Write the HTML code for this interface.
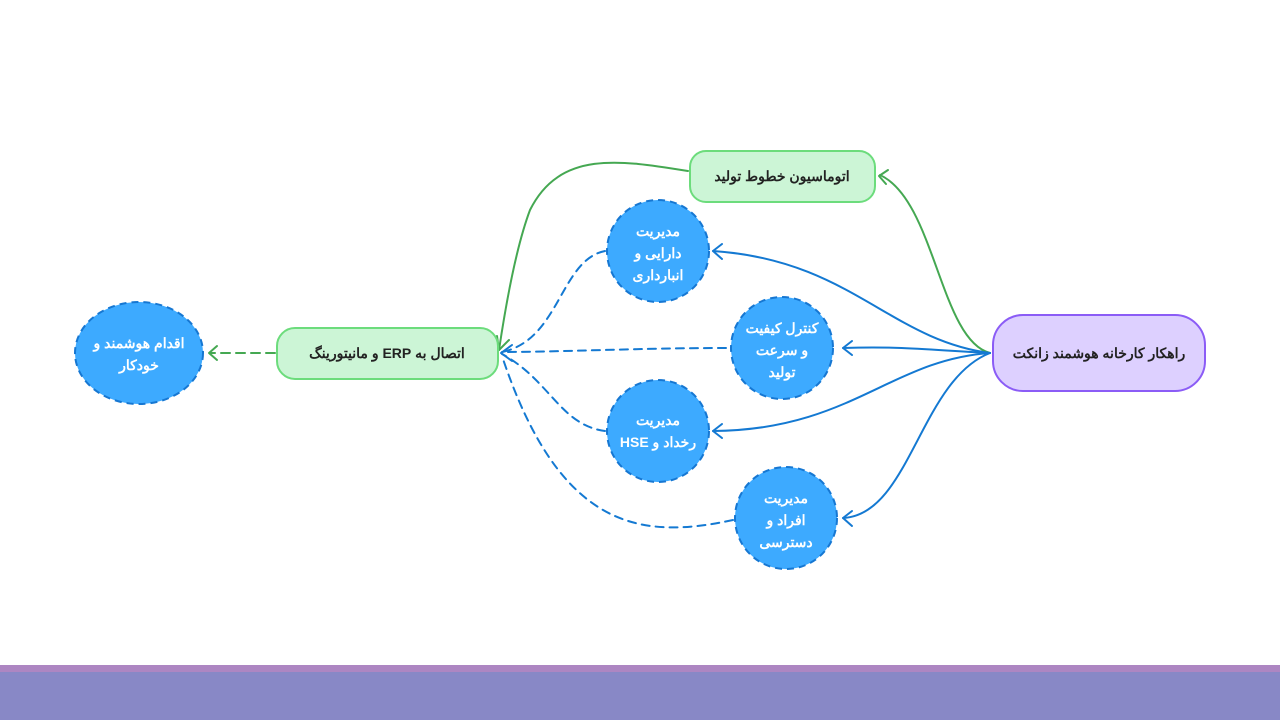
<!DOCTYPE html>
<html><head><meta charset="utf-8"><style>
body{margin:0;width:1280px;height:720px;background:#fff;overflow:hidden;font-family:"Liberation Sans","Noto Sans CJK SC",sans-serif}
</style></head><body>
<svg width="1280" height="720" viewBox="0 0 1280 720" xmlns="http://www.w3.org/2000/svg">
<rect x="0" y="665" width="1280" height="8" fill="#ad86c2"/>
<rect x="0" y="672" width="1280" height="48" fill="#8888c6"/>
<g fill="none" stroke-width="2" stroke-linecap="round" stroke-linejoin="round">
<!-- green solid -->
<path d="M990 353 C940 340 935 200 880 175" stroke="#45a852"/>
<path d="M888 170 L879 176 L886 184" stroke="#45a852"/>
<path d="M688 171 C620 160 560 150 530 210 C515 250 505 310 499 350" stroke="#45a852"/>
<path d="M497 336 L499 350 L509 340" stroke="#45a852"/>
<!-- blue solid -->
<g stroke="#1479d2">
<path d="M990 353 C890 340 850 260 713 251"/>
<path d="M722 244 L713 251 L722 259"/>
<path d="M990 353 C930 350 900 346 843 348"/>
<path d="M852 341 L843 348 L852 355"/>
<path d="M990 353 C890 360 850 430 713 431"/>
<path d="M722 424 L713 431 L722 438"/>
<path d="M990 353 C920 380 910 515 843 518"/>
<path d="M852 511 L843 518 L852 526"/>
</g>
<!-- blue dashed -->
<g stroke="#1479d2" stroke-dasharray="8 6">
<path d="M605 251 C560 260 560 340 502 352"/>
<path d="M726 348 C640 348 560 352 502 352"/>
<path d="M605 431 C560 425 550 380 502 354"/>
<path d="M733 520 C640 540 560 530 502 356"/>
</g>
<path d="M512 345 L501 353 L512 361" stroke="#1479d2"/>
<path d="M275 353 L210 353" stroke="#45a852" stroke-dasharray="9 6"/>
<path d="M217 346 L209 353 L217 360" stroke="#45a852"/>
</g>
<rect x="993" y="315" width="212" height="76" rx="30" fill="#ddd0ff" stroke="#8b5cf6" stroke-width="2"/>
<rect x="690" y="151" width="185" height="51" rx="16" fill="#ccf5d6" stroke="#6cdc7c" stroke-width="2"/>
<rect x="277" y="328" width="221" height="51" rx="18" fill="#ccf5d6" stroke="#6cdc7c" stroke-width="2"/>
<g fill="#3daaff" stroke="#1677d2" stroke-width="2" stroke-dasharray="7 5">
<circle cx="658" cy="251" r="51"/>
<circle cx="782" cy="348" r="51"/>
<circle cx="658" cy="431" r="51"/>
<circle cx="786" cy="518" r="51"/>
<ellipse cx="139" cy="353" rx="64" ry="51"/>
</g>
<g font-family="Liberation Sans, Noto Sans CJK SC, sans-serif" font-weight="bold" font-size="14" text-anchor="middle" direction="rtl">
<text x="1099" y="358" fill="#222">راهکار کارخانه هوشمند زانکت</text>
<text x="782" y="181" fill="#222">اتوماسیون خطوط تولید</text>
<text x="387" y="358" fill="#222">اتصال به ERP و مانیتورینگ</text>
<g fill="#fff">
<text x="658" y="236">مدیریت</text><text x="658" y="258">دارایی و</text><text x="658" y="280">انبارداری</text>
<text x="782" y="333">کنترل کیفیت</text><text x="782" y="355">و سرعت</text><text x="782" y="377">تولید</text>
<text x="658" y="425">مدیریت</text><text x="658" y="447">رخداد و HSE</text>
<text x="786" y="503">مدیریت</text><text x="786" y="525">افراد و</text><text x="786" y="547">دسترسی</text>
<text x="139" y="348">اقدام هوشمند و</text><text x="139" y="370">خودکار</text>
</g></g>
</svg>
</body></html>
